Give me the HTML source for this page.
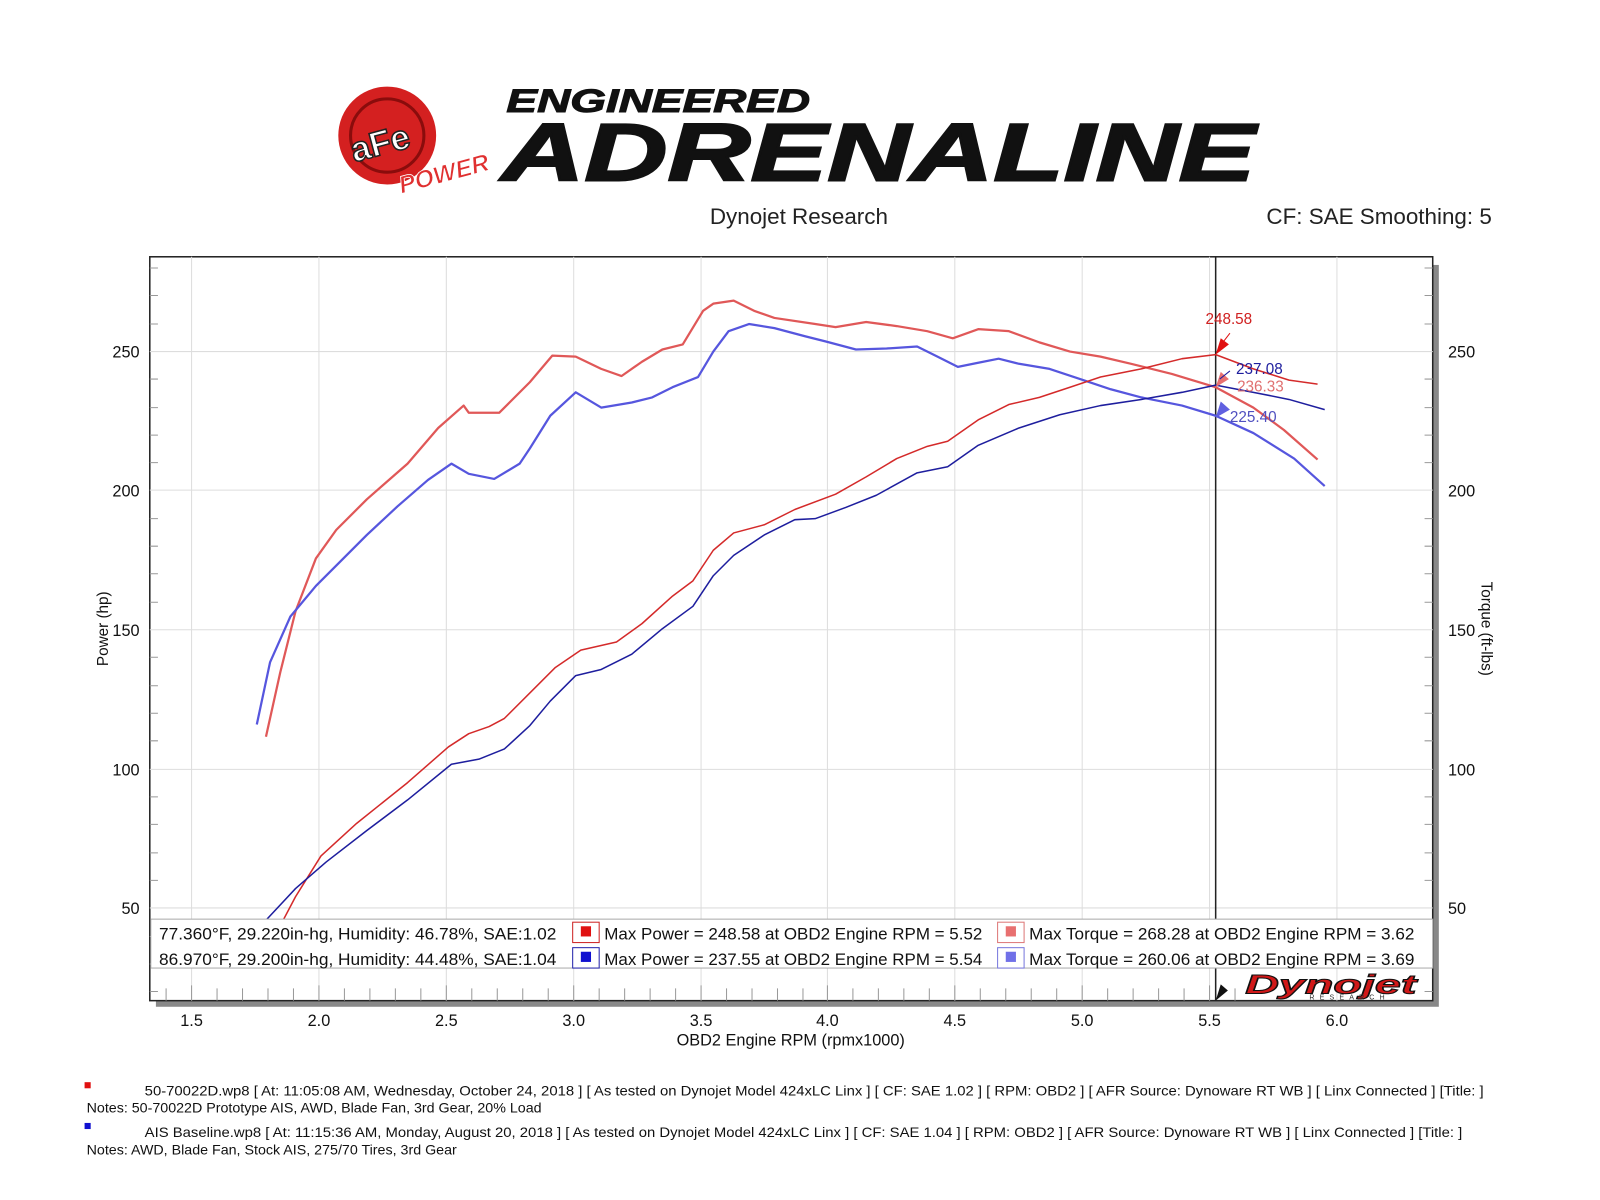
<!DOCTYPE html>
<html><head><meta charset="utf-8"><style>
html,body{margin:0;padding:0;background:#fff;}
svg{display:block;font-family:"Liberation Sans","DejaVu Sans",sans-serif;}
</style></head><body>
<svg width="1600" height="1200" viewBox="0 0 1600 1200" xmlns="http://www.w3.org/2000/svg">
<rect width="1600" height="1200" fill="#fff"/>
<g transform="scale(1.019)">
<circle cx="380" cy="133" r="48" fill="#d42020"/>
<circle cx="380" cy="133" r="36" fill="none" stroke="#8a0c0c" stroke-width="3"/>
<text x="342" y="150" font-size="34" font-weight="bold" fill="#fff" stroke="#222" stroke-width="1.5" transform="rotate(-15 380 133)">aFe</text>
<text x="390" y="180" font-size="24" font-weight="bold" font-style="italic" fill="#e03030" stroke="#fff" stroke-width="0.8" transform="rotate(-15 430 170)">POWER</text>
<text x="497" y="110" font-size="32" font-weight="bold" font-style="italic" fill="#111" stroke="#111" stroke-width="1" textLength="298" lengthAdjust="spacingAndGlyphs">ENGINEERED</text>
<text x="492" y="177" font-size="80" font-weight="bold" font-style="italic" fill="#111" stroke="#111" stroke-width="2" textLength="740" lengthAdjust="spacingAndGlyphs">ADRENALINE</text>
<text x="784" y="220" font-size="22" text-anchor="middle" fill="#222">Dynojet Research</text>
<text x="1464" y="220" font-size="22" text-anchor="end" fill="#222">CF: SAE Smoothing: 5</text>
<rect x="153" y="260" width="1259" height="728" fill="#888"/>
<rect x="147" y="252" width="1259" height="730" fill="#fff" stroke="#222" stroke-width="1.5"/>
<g stroke="#ddd" stroke-width="1">
<line x1="188" y1="252" x2="188" y2="982"/><line x1="313" y1="252" x2="313" y2="982"/><line x1="438" y1="252" x2="438" y2="982"/>
<line x1="563" y1="252" x2="563" y2="982"/><line x1="688" y1="252" x2="688" y2="982"/><line x1="812" y1="252" x2="812" y2="982"/>
<line x1="937" y1="252" x2="937" y2="982"/><line x1="1062" y1="252" x2="1062" y2="982"/><line x1="1187" y1="252" x2="1187" y2="982"/>
<line x1="1312" y1="252" x2="1312" y2="982"/>
<line x1="147" y1="345" x2="1406" y2="345"/><line x1="147" y1="481" x2="1406" y2="481"/><line x1="147" y1="618" x2="1406" y2="618"/>
<line x1="147" y1="755" x2="1406" y2="755"/><line x1="147" y1="891" x2="1406" y2="891"/>
</g>
<g stroke="#999" stroke-width="1">
<path d="M147 263h8M147 290h8M147 318h8M147 372h8M147 400h8M147 427h8M147 454h8M147 509h8M147 536h8M147 563h8M147 591h8M147 645h8M147 673h8M147 700h8M147 727h8M147 782h8M147 809h8M147 837h8M147 864h8M147 919h8M147 946h8M147 973h8"/>
<path d="M1406 263h-8M1406 290h-8M1406 318h-8M1406 372h-8M1406 400h-8M1406 427h-8M1406 454h-8M1406 509h-8M1406 536h-8M1406 563h-8M1406 591h-8M1406 645h-8M1406 673h-8M1406 700h-8M1406 727h-8M1406 782h-8M1406 809h-8M1406 837h-8M1406 864h-8M1406 919h-8M1406 946h-8M1406 973h-8"/>
<path d="M163 982v-12M188 982v-15M213 982v-12M238 982v-12M263 982v-12M288 982v-12M313 982v-15M338 982v-12M363 982v-12M388 982v-12M413 982v-12M438 982v-15M463 982v-12M488 982v-12M513 982v-12M538 982v-12M563 982v-15M588 982v-12M613 982v-12M638 982v-12M663 982v-12M688 982v-15M713 982v-12M738 982v-12M763 982v-12M788 982v-12M812 982v-15M837 982v-12M862 982v-12M887 982v-12M912 982v-12M937 982v-15M962 982v-12M987 982v-12M1012 982v-12M1037 982v-12M1062 982v-15M1087 982v-12M1112 982v-12M1137 982v-12M1162 982v-12M1187 982v-15M1212 982v-12"/>
</g>
<line x1="1193" y1="252" x2="1193" y2="982" stroke="#222" stroke-width="1.5"/>
<g fill="none" stroke-linejoin="round">
<polyline stroke="#e05858" stroke-width="2.2" points="261,723 275,660 290,600 310,548 330,520 360,490 400,455 430,420 455,398 460,405 470,405 490,405 500,395 520,375 542,349 565,350 590,362 610,369 630,355 650,343 670,338 690,305 700,298 720,295 740,305 760,312 800,318 820,321 850,316 880,320 910,325 935,332 960,323 990,325 1020,336 1050,345 1080,350 1110,357 1150,367 1193,380 1230,400 1260,422 1293,451"/>
<polyline stroke="#5656de" stroke-width="2.2" points="252,711 265,650 285,605 310,575 330,555 360,525 390,497 420,471 443,455 460,465 485,470 510,455 520,440 540,408 565,385 590,400 620,395 640,390 660,380 685,370 700,345 715,325 735,318 760,322 790,330 810,335 840,343 870,342 900,340 920,350 940,360 960,356 980,352 1000,357 1030,362 1060,372 1090,382 1120,390 1160,398 1193,408 1230,425 1270,450 1300,477"/>
<polyline stroke="#d42a2a" stroke-width="1.5" points="270,918 290,880 315,840 350,808 400,768 440,733 460,720 480,713 495,705 520,680 545,655 570,638 605,630 630,612 660,585 680,570 700,540 720,523 750,515 780,500 820,485 850,468 880,450 910,438 930,433 960,412 990,397 1020,390 1050,380 1080,370 1120,362 1160,352 1193,348 1230,362 1265,373 1293,377"/>
<polyline stroke="#1e1e9e" stroke-width="1.5" points="262,902 290,872 320,846 360,815 400,785 443,750 470,745 495,735 520,712 540,688 565,663 590,657 620,642 650,617 680,595 700,565 720,545 750,525 780,510 800,509 830,498 860,486 900,464 930,458 960,437 1000,420 1040,407 1080,398 1120,392 1160,385 1193,378 1230,385 1265,392 1300,402"/>
</g>
<g font-size="15">
<polygon points="1193,348 1206,338 1198,332" fill="#e01010"/><line x1="1200" y1="336" x2="1207" y2="327" stroke="#e01010"/>
<text x="1183" y="318" fill="#d02020">248.58</text>
<polygon points="1193,380 1206,372 1198,365" fill="#e87070"/>
<text x="1214" y="384" fill="#e07070">236.33</text>
<line x1="1197" y1="372" x2="1207" y2="364" stroke="#1e1e9e"/>
<text x="1213" y="367" fill="#1e1e9e">237.08</text>
<polygon points="1193,410 1207,402 1198,394" fill="#6060e0"/>
<text x="1207" y="414" fill="#5050c0">225.40</text>
</g>
<rect x="148" y="902" width="1258" height="48" fill="#fff" stroke="#aaa"/>
<g font-size="16" fill="#111">
<text x="156" y="922" textLength="390" lengthAdjust="spacingAndGlyphs">77.360°F, 29.220in-hg, Humidity: 46.78%, SAE:1.02</text>
<text x="156" y="947" textLength="390" lengthAdjust="spacingAndGlyphs">86.970°F, 29.200in-hg, Humidity: 44.48%, SAE:1.04</text>
<rect x="562" y="905" width="26" height="20" fill="#fff" stroke="#c22"/><rect x="570" y="909" width="10" height="10" fill="#e01010"/>
<rect x="562" y="930" width="26" height="20" fill="#fff" stroke="#22a"/><rect x="570" y="934" width="10" height="10" fill="#1010d0"/>
<text x="593" y="922" textLength="371" lengthAdjust="spacingAndGlyphs">Max Power = 248.58 at OBD2 Engine RPM = 5.52</text>
<text x="593" y="947" textLength="371" lengthAdjust="spacingAndGlyphs">Max Power = 237.55 at OBD2 Engine RPM = 5.54</text>
<rect x="979" y="905" width="26" height="20" fill="#fff" stroke="#d77"/><rect x="987" y="909" width="10" height="10" fill="#e87070"/>
<rect x="979" y="930" width="26" height="20" fill="#fff" stroke="#77d"/><rect x="987" y="934" width="10" height="10" fill="#7070e8"/>
<text x="1010" y="922" textLength="378" lengthAdjust="spacingAndGlyphs">Max Torque = 268.28 at OBD2 Engine RPM = 3.62</text>
<text x="1010" y="947" textLength="378" lengthAdjust="spacingAndGlyphs">Max Torque = 260.06 at OBD2 Engine RPM = 3.69</text>
</g>
<polygon points="1193,982 1198,966 1205,972" fill="#111"/>
<text x="1222" y="975" font-size="26" font-weight="bold" font-style="italic" fill="#d01818" stroke="#111" stroke-width="1" textLength="168" lengthAdjust="spacingAndGlyphs">Dynojet</text>
<text x="1285" y="981" font-size="7" fill="#333" letter-spacing="5">RESEARCH</text>
<g font-size="16" fill="#111" text-anchor="middle">
<text x="188" y="1007">1.5</text><text x="313" y="1007">2.0</text><text x="438" y="1007">2.5</text><text x="563" y="1007">3.0</text><text x="688" y="1007">3.5</text><text x="812" y="1007">4.0</text><text x="937" y="1007">4.5</text><text x="1062" y="1007">5.0</text><text x="1187" y="1007">5.5</text><text x="1312" y="1007">6.0</text>
<text x="776" y="1026">OBD2 Engine RPM (rpmx1000)</text>
</g>
<g font-size="16" fill="#111">
<g text-anchor="end"><text x="137" y="351">250</text><text x="137" y="487">200</text><text x="137" y="624">150</text><text x="137" y="761">100</text><text x="137" y="897">50</text></g>
<text x="1421" y="351">250</text><text x="1421" y="487">200</text><text x="1421" y="624">150</text><text x="1421" y="761">100</text><text x="1421" y="897">50</text>
<text x="106" y="617" text-anchor="middle" font-size="15" transform="rotate(-90 106 617)">Power (hp)</text>
<text x="1454" y="617" text-anchor="middle" font-size="15" transform="rotate(90 1454 617)">Torque (ft-lbs)</text>
</g>
<g font-size="14" fill="#111">
<rect x="83" y="1062" width="6" height="6" fill="#e01010"/>
<text x="142" y="1075" textLength="1314" lengthAdjust="spacingAndGlyphs">50-70022D.wp8 [ At: 11:05:08 AM, Wednesday, October 24, 2018 ] [ As tested on Dynojet Model 424xLC Linx ] [ CF: SAE 1.02 ] [ RPM: OBD2 ] [ AFR Source: Dynoware RT WB ] [ Linx Connected ] [Title: ]</text>
<text x="85" y="1092">Notes: 50-70022D Prototype AIS, AWD, Blade Fan, 3rd Gear, 20% Load</text>
<rect x="83" y="1102" width="6" height="6" fill="#1010d0"/>
<text x="142" y="1116" textLength="1293" lengthAdjust="spacingAndGlyphs">AIS Baseline.wp8 [ At: 11:15:36 AM, Monday, August 20, 2018 ] [ As tested on Dynojet Model 424xLC Linx ] [ CF: SAE 1.04 ] [ RPM: OBD2 ] [ AFR Source: Dynoware RT WB ] [ Linx Connected ] [Title: ]</text>
<text x="85" y="1133">Notes: AWD, Blade Fan, Stock AIS, 275/70 Tires, 3rd Gear</text>
</g>
</g>
</svg>
</body></html>
